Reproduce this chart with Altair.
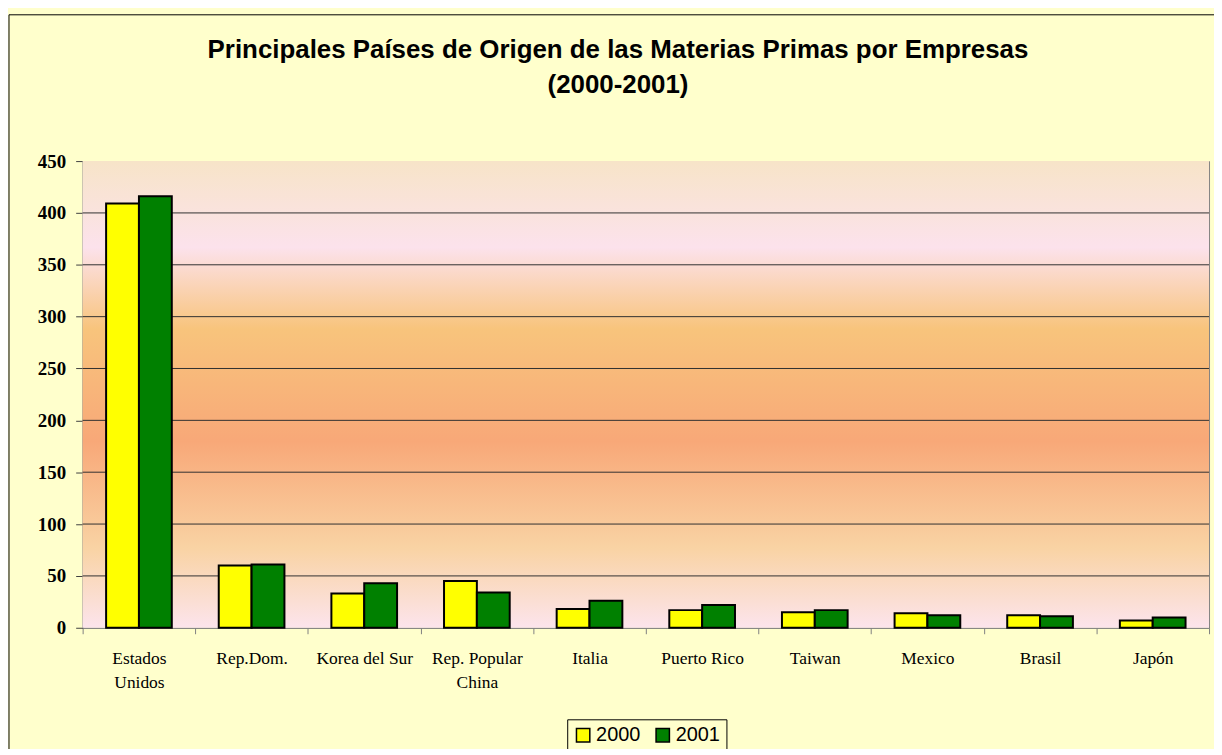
import altair as alt
import pandas as pd

categories = ["Estados Unidos", "Rep.Dom.", "Korea del Sur", "Rep. Popular China",
              "Italia", "Puerto Rico", "Taiwan", "Mexico", "Brasil", "Japón"]
v2000 = [409, 60, 33, 45, 18, 17, 15, 14, 12, 7]
v2001 = [416, 61, 43, 34, 26, 22, 17, 12, 11, 10]
years = ["2000", "2001"]
colors = ["#FFFF00", "#008000"]
y_ticks = [0, 50, 100, 150, 200, 250, 300, 350, 400, 450]

rows = []
for c, a, b in zip(categories, v2000, v2001):
    rows.append({"pais": c, "anio": "2000", "valor": a})
    rows.append({"pais": c, "anio": "2001", "valor": b})
df = pd.DataFrame(rows)
grid_df = pd.DataFrame({"g": y_ticks[1:-1]})

W, H = 1132, 469

label_expr = ("datum.label == 'Estados Unidos' ? ['Estados', 'Unidos'] : "
              "datum.label == 'Rep. Popular China' ? ['Rep. Popular', 'China'] : datum.label")

grad = alt.LinearGradient(
    gradient="linear", x1=0, x2=0, y1=0, y2=1,
    stops=[
        alt.GradientStop(offset=0.0, color="#F7E4C8"),
        alt.GradientStop(offset=0.185, color="#FCE2EC"),
        alt.GradientStop(offset=0.36, color="#F8C47C"),
        alt.GradientStop(offset=0.60, color="#F8A878"),
        alt.GradientStop(offset=0.83, color="#F9D3A4"),
        alt.GradientStop(offset=1.0, color="#FCE4EC"),
    ],
)

yscale = alt.Scale(domain=[0, 450], nice=False)

bg = alt.Chart(alt.Data(values=[{"f": 1}])).mark_rect(fill=grad, strokeWidth=0).encode(
    x=alt.value(0), x2=alt.value(W), y=alt.value(0), y2=alt.value(H)
)

grid = alt.Chart(grid_df).mark_rule(color="#303030", strokeWidth=1).encode(
    y=alt.Y("g:Q", scale=yscale, title=None)
)

bars = alt.Chart(df).mark_bar(stroke="black", strokeWidth=2, opacity=1).encode(
    x=alt.X("pais:N", sort=categories, title=None,
            scale=alt.Scale(paddingInner=0, paddingOuter=0),
            axis=alt.Axis(labelAngle=0, labelExpr=label_expr, tickBand="extent",
                          labelFont="Liberation Serif", labelFontSize=17.5,
                          labelColor="black", labelPadding=16, labelLineHeight=24,
                          domainColor="#808080", tickColor="#808080", tickSize=6,
                          grid=False)),
    xOffset=alt.XOffset("anio:N", sort=years,
                        scale=alt.Scale(paddingInner=0, paddingOuter=0.715)),
    y=alt.Y("valor:Q", title=None, scale=yscale,
            axis=alt.Axis(values=y_ticks, labelFont="Liberation Serif",
                          labelFontWeight="bold", labelFontSize=19,
                          labelColor="black", labelPadding=10, tickSize=7,
                          tickColor="#404040", domainColor="#808080", grid=False)),
    color=alt.Color("anio:N", sort=years,
                    scale=alt.Scale(domain=years, range=colors),
                    legend=alt.Legend(title=None, orient="none", direction="horizontal",
                                      legendX=487, legendY=561,
                                      symbolType="square", symbolSize=180,
                                      symbolStrokeColor="black", symbolStrokeWidth=1.5,
                                      symbolOpacity=1,
                                      labelFont="Liberation Sans", labelFontSize=20,
                                      labelColor="black", labelOffset=3,
                                      columnPadding=12, padding=6,
                                      strokeColor="black", fillColor="#FFFFCC")),
)

frame = alt.Chart(alt.Data(values=[{"f": 1}])).mark_rect(
    filled=False, stroke="black", strokeWidth=1
).encode(
    x=alt.value(-74), x2=alt.value(1200), y=alt.value(-147), y2=alt.value(700)
)

chart = alt.layer(bg, grid, bars, frame).properties(
    width=W, height=H,
    padding={"left": 75, "top": 152, "right": 5, "bottom": 120},
    autosize=alt.AutoSizeParams(type="none"),
    background="#FFFFCC",
    title=alt.TitleParams(
        text=["Principales Países de Origen de las Materias Primas por Empresas",
              "(2000-2001)"],
        font="Liberation Sans", fontSize=26, fontWeight="bold", color="black",
        anchor="middle", frame="group", offset=0, dy=84, dx=-28, lineHeight=35,
    ),
).configure_view(
    stroke="#808080", strokeWidth=1
)

chart.save("out.html", embed_options={"renderer": "svg", "actions": False})
